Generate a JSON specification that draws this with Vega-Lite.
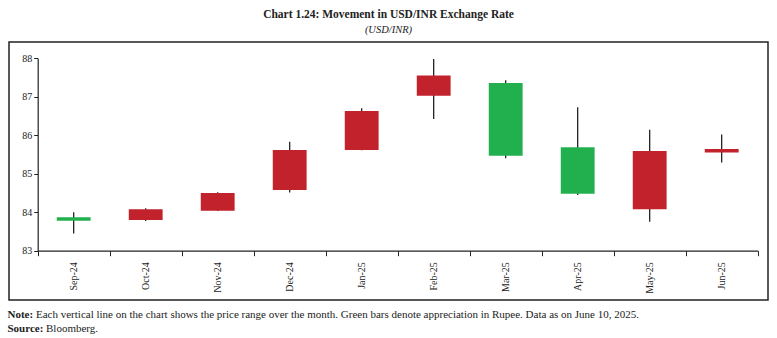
{
  "$schema": "https://vega.github.io/schema/vega-lite/v6.json",
  "width": 759,
  "height": 258,
  "autosize": {"type": "none"},
  "padding": {"left": 9, "top": 42, "right": 9, "bottom": 38},
  "background": "white",
  "config": {
    "view": {"stroke": "#222", "strokeWidth": 1.5},
    "font": "Liberation Serif"
  },
  "title": {
    "text": "Chart 1.24: Movement in USD/INR Exchange Rate",
    "subtitle": "(USD/INR)",
    "anchor": "middle",
    "font": "Liberation Serif",
    "fontSize": 11.5,
    "fontWeight": "bold",
    "color": "#222",
    "subtitleFont": "Liberation Serif",
    "subtitleFontSize": 10.5,
    "subtitleFontStyle": "italic",
    "subtitleColor": "#222",
    "subtitlePadding": 4,
    "offset": 7
  },
  "data": {
    "values": [
      {"month": "Sep-24", "open": 83.87, "close": 83.78, "high": 84.0, "low": 83.45, "dir": "Appreciation"},
      {"month": "Oct-24", "open": 83.8, "close": 84.08, "high": 84.1, "low": 83.77, "dir": "Depreciation"},
      {"month": "Nov-24", "open": 84.04, "close": 84.5, "high": 84.52, "low": 84.03, "dir": "Depreciation"},
      {"month": "Dec-24", "open": 84.58, "close": 85.62, "high": 85.83, "low": 84.51, "dir": "Depreciation"},
      {"month": "Jan-25", "open": 85.62, "close": 86.63, "high": 86.7, "low": 85.61, "dir": "Depreciation"},
      {"month": "Feb-25", "open": 87.03, "close": 87.55, "high": 87.98, "low": 86.42, "dir": "Depreciation"},
      {"month": "Mar-25", "open": 87.36, "close": 85.47, "high": 87.43, "low": 85.4, "dir": "Appreciation"},
      {"month": "Apr-25", "open": 85.69, "close": 84.48, "high": 86.73, "low": 84.45, "dir": "Appreciation"},
      {"month": "May-25", "open": 84.08, "close": 85.59, "high": 86.14, "low": 83.75, "dir": "Depreciation"},
      {"month": "Jun-25", "open": 85.55, "close": 85.64, "high": 86.02, "low": 85.29, "dir": "Depreciation"}
    ]
  },
  "resolve": {"axis": {"x": "independent"}},
  "layer": [
    {
      "mark": {"type": "rule", "color": "#111", "strokeWidth": 1.2},
      "encoding": {
        "x": {
          "field": "month",
          "type": "ordinal",
          "sort": null,
          "scale": {"range": [28.7, 748.7], "paddingInner": 0, "paddingOuter": 0},
          "axis": {
            "orient": "bottom",
            "offset": -49.3,
            "labelAngle": -90,
            "labelFontSize": 10,
            "labelColor": "#222",
            "labelPadding": 6,
            "tickBand": "extent",
            "tickSize": 5,
            "tickColor": "#222",
            "domainColor": "#222",
            "domainWidth": 1.2,
            "title": ["Note:", "Source:"],
            "titleFont": "Liberation Serif",
            "titleFontSize": 11,
            "titleFontWeight": "bold",
            "titleColor": "#222",
            "titleAnchor": "start",
            "titleAlign": "left",
            "titleBaseline": "alphabetic",
            "titleLineHeight": 14,
            "titleX": -2,
            "titleY": 67
          }
        },
        "y": {
          "field": "low",
          "type": "quantitative",
          "scale": {"domain": [83, 88], "range": [208.7, 16.3], "nice": false, "zero": false},
          "axis": {
            "orient": "left",
            "offset": -28.7,
            "values": [83, 84, 85, 86, 87, 88],
            "grid": false,
            "title": null,
            "labelFontSize": 10,
            "labelColor": "#222",
            "labelPadding": 2,
            "tickSize": 4,
            "tickColor": "#222",
            "domainColor": "#222",
            "domainWidth": 1.2
          }
        },
        "y2": {"field": "high"}
      }
    },
    {
      "mark": {"type": "bar", "width": {"band": 0.47}},
      "encoding": {
        "x": {
          "field": "month",
          "type": "ordinal",
          "sort": null,
          "axis": {
            "orient": "bottom",
            "offset": -49.3,
            "labels": false,
            "ticks": false,
            "domain": false,
            "title": "Each vertical line on the chart shows the price range over the month. Green bars denote appreciation in Rupee. Data as on June 10, 2025.",
            "titleFont": "Liberation Serif",
            "titleFontSize": 11,
            "titleFontWeight": "normal",
            "titleColor": "#222",
            "titleAnchor": "start",
            "titleAlign": "left",
            "titleBaseline": "alphabetic",
            "titleX": 26.5,
            "titleY": 67
          }
        },
        "y": {"field": "open", "type": "quantitative"},
        "y2": {"field": "close"},
        "color": {
          "field": "dir",
          "type": "nominal",
          "scale": {"domain": ["Depreciation", "Appreciation"], "range": ["#C1222B", "#22B04E"]},
          "legend": null
        }
      }
    },
    {
      "mark": {"type": "rule", "strokeOpacity": 0},
      "encoding": {
        "x": {
          "field": "month",
          "type": "ordinal",
          "sort": null,
          "axis": {
            "orient": "bottom",
            "offset": -49.3,
            "labels": false,
            "ticks": false,
            "domain": false,
            "title": "Bloomberg.",
            "titleFont": "Liberation Serif",
            "titleFontSize": 11,
            "titleFontWeight": "normal",
            "titleColor": "#222",
            "titleAnchor": "start",
            "titleAlign": "left",
            "titleBaseline": "alphabetic",
            "titleX": 36.5,
            "titleY": 81
          }
        },
        "y": {"field": "low", "type": "quantitative"},
        "y2": {"field": "high"}
      }
    }
  ]
}
